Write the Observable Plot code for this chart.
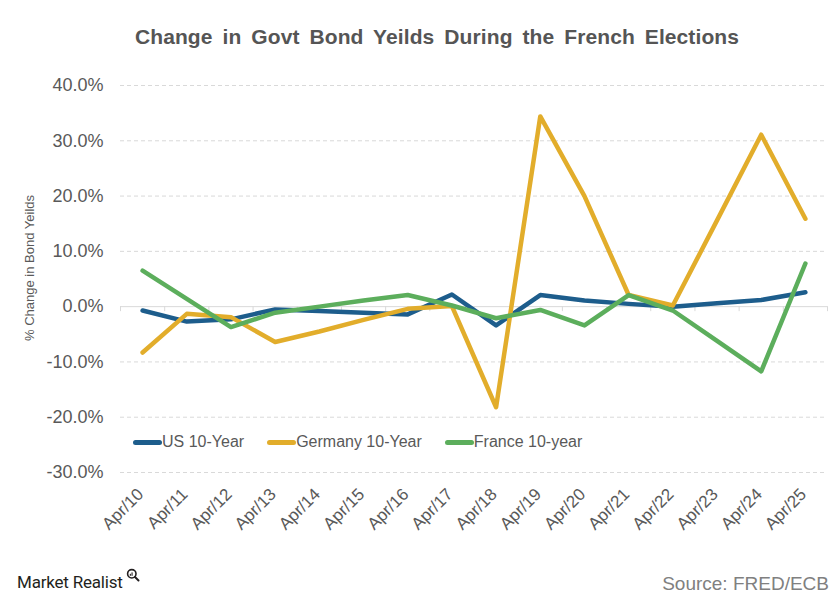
<!DOCTYPE html>
<html><head><meta charset="utf-8">
<script src="https://cdn.jsdelivr.net/npm/d3@7"></script>
<script src="https://cdn.jsdelivr.net/npm/@observablehq/plot@0.6"></script>
<style>
body{margin:0;background:#fff;}
#wrap{position:relative;width:840px;height:601px;overflow:hidden;font-family:Arial,"Liberation Sans",sans-serif;background:#fff;}
#wrap svg.plot{position:absolute;left:0;top:0;}
.abs{position:absolute;white-space:nowrap;}
#title{top:26px;left:437px;transform:translateX(-50%);font-size:21px;font-weight:bold;color:#555555;line-height:21px;word-spacing:4px;letter-spacing:0.1px;}
#ylabel{left:29px;top:268px;transform:translate(-50%,-50%) rotate(-90deg);font-size:13px;color:#595959;line-height:13px;}
#legend{top:434px;left:133px;display:flex;align-items:center;font-size:16px;color:#595959;line-height:16px;}
#legend .item{display:flex;align-items:center;margin-right:23px;}
#legend .sw{width:29px;height:5px;border-radius:3px;}
#source{top:574px;right:11px;font-size:19px;color:#808080;line-height:19px;}
#brand{top:574px;left:17px;font-family:Roboto,sans-serif;font-size:17px;color:#231f20;line-height:17px;letter-spacing:-0.2px;}
#wrap #mag{position:absolute;left:126px;top:568px;}
</style></head><body>
<div id="wrap"></div>
<script>
const categories = ["Apr/10","Apr/11","Apr/12","Apr/13","Apr/14","Apr/15","Apr/16","Apr/17","Apr/18","Apr/19","Apr/20","Apr/21","Apr/22","Apr/23","Apr/24","Apr/25"];
const usValues = [-0.7, -2.7, -2.3, -0.5, -0.8, -1.1, -1.4, 2.2, -3.4, 2.1, 1.1, 0.5, 0.0, 0.6, 1.2, 2.6];
const germanyValues = [-8.3, -1.3, -1.9, -6.4, -4.5, -2.4, -0.4, 0.1, -18.2, 34.4, 20.0, 2.1, 0.2, 15.6, 31.1, 15.9];
const franceValues = [6.5, 1.4, -3.7, -1.1, 0.0, 1.1, 2.1, 0.2, -2.1, -0.6, -3.4, 2.1, -0.7, -6.2, -11.7, 7.8];
const seriesNames = ["US 10-Year", "Germany 10-Year", "France 10-year"];
const seriesColors = ["#1d5d8c", "#e2ad2b", "#5cae5c"];
const yTicks = [-30, -20, -10, 0, 10, 20, 30, 40];
const titleText = "Change in Govt Bond Yeilds During the French Elections";
const yLabelText = "% Change in Bond Yeilds";
const sourceText = "Source: FRED/ECB";
const brandText = "Market Realist";

const rows = [];
[usValues, germanyValues, franceValues].forEach((vals, s) =>
  vals.forEach((v, i) => rows.push({series: seriesNames[s], i, value: v})));
const idx = d3.range(categories.length);
const boundaries = d3.range(categories.length + 1).map(i => i - 0.5);

const chart = Plot.plot({
  width: 840, height: 601,
  marginLeft: 120, marginRight: 13, marginTop: 85, marginBottom: 129,
  style: {fontFamily: "Arial, 'Liberation Sans', sans-serif", background: "transparent"},
  x: {type: "linear", domain: [-0.5, categories.length - 0.5]},
  y: {domain: [-30, 40]},
  color: {domain: seriesNames, range: seriesColors},
  marks: [
    Plot.ruleY(yTicks.filter(t => t !== 0), {stroke: "#d9d9d9", strokeDasharray: "4,3", strokeWidth: 1}),
    Plot.ruleY([0], {stroke: "#d9d9d9", strokeWidth: 1}),
    Plot.ruleX(boundaries, {x: d => d, y1: 0, y2: 0, insetBottom: -5, stroke: "#d9d9d9"}),
    Plot.axisY({ticks: yTicks, tickSize: 0, tickPadding: 17, tickFormat: d => d.toFixed(1) + "%", fontSize: 18, color: "#595959", label: null}),
    Plot.axisX({ticks: idx, tickFormat: i => categories[i], tickRotate: -45, tickSize: 0, tickPadding: 19, fontSize: 17, color: "#595959", label: null, dx: -2}),
    Plot.line(rows, {x: "i", y: "value", z: "series", stroke: "series", strokeWidth: 4.5, strokeLinejoin: "round", strokeLinecap: "round"})
  ]
});

const wrap = document.getElementById("wrap");
chart.classList.add("plot");
wrap.appendChild(chart);

function addDiv(id, text) {
  const d = document.createElement("div");
  d.className = "abs"; d.id = id; d.textContent = text;
  wrap.appendChild(d); return d;
}
addDiv("title", titleText);
addDiv("ylabel", yLabelText);
addDiv("source", sourceText);
addDiv("brand", brandText);

const legend = document.createElement("div");
legend.className = "abs"; legend.id = "legend";
seriesNames.forEach((n, s) => {
  const item = document.createElement("div"); item.className = "item";
  const sw = document.createElement("span"); sw.className = "sw"; sw.style.background = seriesColors[s];
  const t = document.createElement("span"); t.textContent = n;
  item.appendChild(sw); item.appendChild(t); legend.appendChild(item);
});
wrap.appendChild(legend);

const mag = document.createElementNS("http://www.w3.org/2000/svg", "svg");
mag.setAttribute("id", "mag"); mag.setAttribute("width", "14"); mag.setAttribute("height", "14");
mag.innerHTML = '<circle cx="5.8" cy="5.8" r="4.2" fill="none" stroke="#231f20" stroke-width="1.6"/><line x1="9" y1="9" x2="12.5" y2="12.5" stroke="#231f20" stroke-width="2" stroke-linecap="round"/><rect x="3.8" y="5.8" width="1.1" height="2" fill="#231f20"/><rect x="5.5" y="4.4" width="1.1" height="3.4" fill="#231f20"/>';
wrap.appendChild(mag);
</script>
</body></html>
